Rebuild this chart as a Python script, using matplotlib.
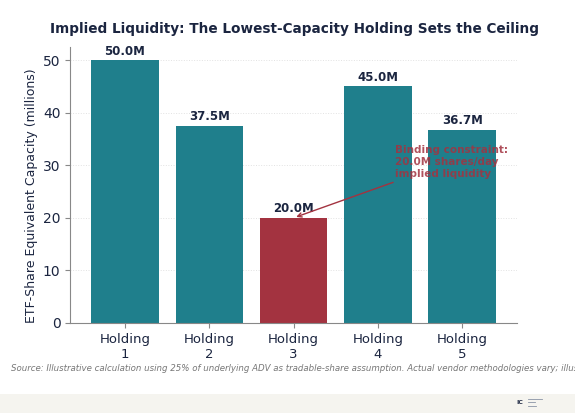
import matplotlib
matplotlib.use("Agg")
import matplotlib.pyplot as plt
from matplotlib.patches import Rectangle
from matplotlib.lines import Line2D

# data
holdings = ["Holding\n1", "Holding\n2", "Holding\n3", "Holding\n4", "Holding\n5"]
capacity = [50.0, 37.5, 20.0, 45.0, 36.7]
binding_idx = 2

TEAL = "#1f7f8c"
RED = "#a33340"
NAVY = "#1b2540"

fig = plt.figure(figsize=(5.75, 4.13), dpi=100)
fig.patch.set_facecolor("white")
ax = fig.add_axes([0.122, 0.218, 0.777, 0.668])

x = range(len(holdings))
colors = [RED if i == binding_idx else TEAL for i in x]
bars = ax.bar(x, capacity, width=0.8, color=colors, zorder=2)

for b, v in zip(bars, capacity):
    ax.text(b.get_x() + b.get_width() / 2, v + 0.5, f"{v:.1f}M",
            ha="center", va="bottom", fontsize=8.5, fontweight="bold", color=NAVY)

ax.set_xticks(list(x))
ax.set_xticklabels(holdings, fontsize=9.5, color=NAVY)
ax.set_xlim(-0.65, 4.65)
ax.set_ylim(0, 52.5)
ax.set_yticks([0, 10, 20, 30, 40, 50])
ax.tick_params(axis="y", labelsize=10, colors=NAVY)
ax.tick_params(axis="both", color="#888888")
ax.set_ylabel("ETF-Share Equivalent Capacity (millions)", fontsize=9, color=NAVY, labelpad=3)
ax.yaxis.set_label_coords(-0.073, 0.46)
ax.grid(axis="y", linestyle=":", color="#e2e2e2", linewidth=0.7, zorder=0)
ax.spines["top"].set_visible(False)
ax.spines["right"].set_visible(False)
ax.spines["left"].set_color("#888888")
ax.spines["bottom"].set_color("#888888")

ax.annotate("Binding constraint:\n20.0M shares/day\nimplied liquidity",
            xy=(binding_idx, capacity[binding_idx]), xytext=(3.2, 30.7),
            fontsize=7.5, fontweight="bold", color=RED, alpha=0.85,
            va="center", ha="left", linespacing=1.25,
            arrowprops=dict(arrowstyle="->", color=RED, lw=1.0))

fig.suptitle("Implied Liquidity: The Lowest-Capacity Holding Sets the Ceiling",
             x=0.513, y=0.93, va="center", fontsize=9.8, fontweight="bold", color=NAVY)

fig.text(0.019, 0.108,
         "Source: Illustrative calculation using 25% of underlying ADV as tradable-share "
         "assumption. Actual vendor methodologies vary; illustrative only.",
         fontsize=6.2, style="italic", color="#777777", ha="left", va="center")

# footer band with small logo
fig.patches.append(Rectangle((0, 0), 1, 0.047, transform=fig.transFigure,
                             facecolor="#f5f4ef", edgecolor="none", zorder=0))
fig.text(0.904, 0.026, "IC", fontsize=4.5, fontweight="bold", color=NAVY,
         ha="center", va="center")
for dy, w in [(0.034, 0.025), (0.026, 0.012), (0.018, 0.015)]:
    fig.lines.append(Line2D([0.918, 0.918 + w], [dy, dy], transform=fig.transFigure,
                            color="#8a94a6", lw=0.6))

fig.savefig("out.png", dpi=100)
